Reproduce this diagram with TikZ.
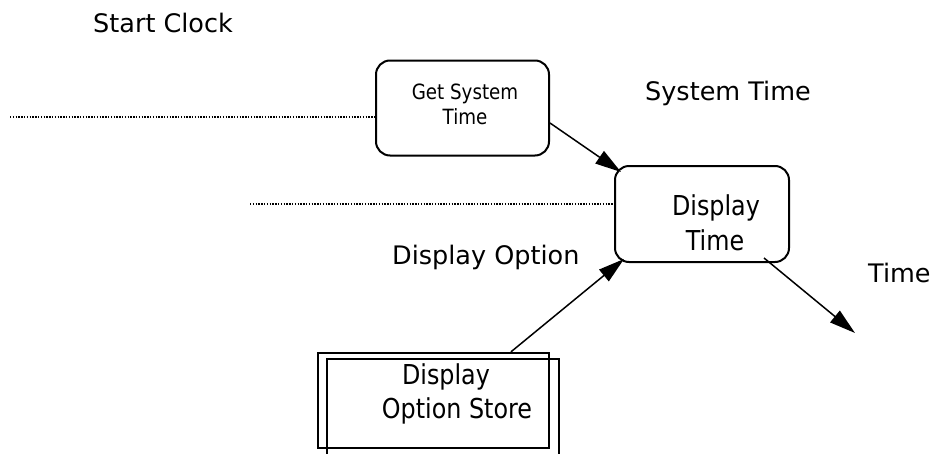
\documentclass[tikz,border=0pt]{standalone}
\usepackage{fontspec}
\setmainfont{DejaVu Sans}
\newfontfamily\boxfont[FakeStretch=0.87]{DejaVu Sans}
\usetikzlibrary{arrows.meta,calc}
\begin{document}
\begin{tikzpicture}[x=1pt,y=-1pt,
  process/.style={draw, line width=2pt, rounded corners=14pt, inner sep=0pt},
  storebox/.style={draw, line width=2.2pt, inner sep=0pt},
  storeline/.style={line width=2.2pt},
  lbl/.style={anchor=base west, inner sep=0pt, font=\fontsize{25.5}{30}\selectfont},
  boxtxt/.style={anchor=base, inner sep=0pt, font=\boxfont\fontsize{27.4}{30}\selectfont},
  smalltxt/.style={anchor=base, inner sep=0pt, font=\boxfont\fontsize{21}{24}\selectfont},
  flow/.style={line width=1.5pt, -{Triangle[length=26pt,width=15pt]}},
  boundary/.style={line width=1.4pt, dash pattern=on 1.3pt off 1.5pt}]
\useasboundingbox (0,0) rectangle (938,453);

% processes
\node[process, minimum width=173pt, minimum height=95pt] (gst) at (462.5,108) {};
\node[smalltxt] (gst1) at (465,99) {Get System};
\node[smalltxt] (gst2) at (465,124) {Time};

\node[process, minimum width=174pt, minimum height=96pt] (dt) at (702,214) {};
\node[boxtxt] (dt1) at (716,215) {Display};
\node[boxtxt] (dt2) at (715,250) {Time};

% data store
\node[storebox, minimum width=231pt, minimum height=95pt] (store) at (433.5,400.5) {};
\draw[storeline] (327,456) -- (327,359) -- (559,359) -- (559,456);
\node[boxtxt] (st1) at (446,384) {Display};
\node[boxtxt] (st2) at (457,418) {Option Store};

% labels
\node[lbl] (startclock) at (93,32) {Start Clock};
\node[lbl] (systime) at (645,100) {System Time};
\node[lbl] (dispopt) at (392,264) {Display Option};
\node[lbl] (timeout) at (868,282) {Time};

% boundary lines
\coordinate (b1) at (10,117);
\draw[boundary] (b1) -- (b1 -| gst.west);
\coordinate (b2) at (250,204);
\draw[boundary] (b2) -- (b2 -| dt.west);

% flows
\draw[flow] (gst.east |- 0,123) -- ($(dt.north west)+(7,7)$);
\draw[flow] ($(store.north west)+(194,0)$) -- ($(dt.south west)+(10,-4)$);
\coordinate (out) at (855,333);
\draw[flow] ($(dt.south east)+(-26,-5)$) -- (out);
\end{tikzpicture}
\end{document}
